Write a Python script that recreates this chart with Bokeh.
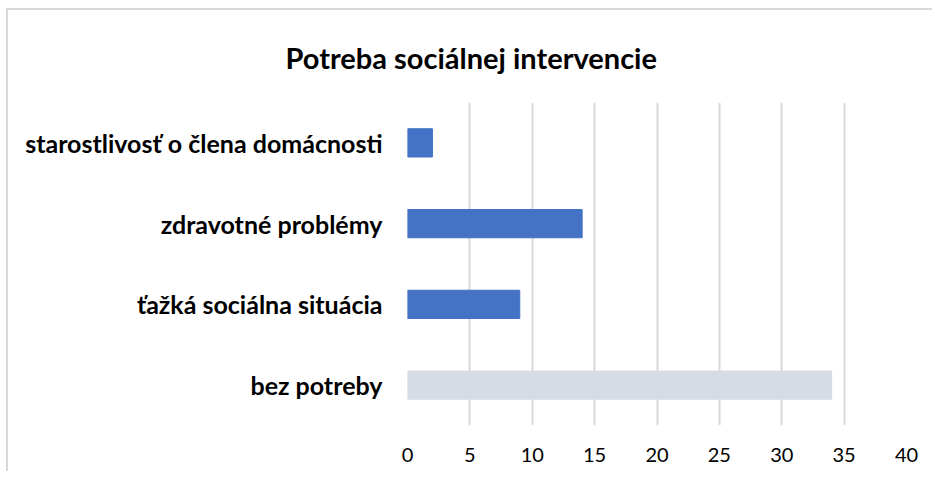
from bokeh.plotting import figure
from bokeh.models import FactorRange, Range1d, SingleIntervalTicker, Title, ColumnDataSource
from bokeh.embed import file_html
from bokeh.resources import INLINE

title_text = "Potreba sociálnej intervencie"
categories = ["starostlivosť o člena domácnosti", "zdravotné problémy", "ťažká sociálna situácia", "bez potreby"]
values = [2, 14, 9, 34]
colors = ["#4472C4", "#4472C4", "#4472C4", "#D6DCE5"]

source = ColumnDataSource(dict(cat=categories, val=values, color=colors))

FONT = "Lato"

p = figure(
    width=926, height=463,
    y_range=FactorRange(*reversed(categories)),
    x_range=Range1d(0, 40),
    output_backend="svg", toolbar_location=None,
    min_border_left=399, min_border_right=28, min_border_top=91, min_border_bottom=48,
)
p.styles = {"border-left": "2px solid #D9D9D9", "border-top": "2px solid #D9D9D9",
            "margin-left": "6px", "margin-top": "8px"}

p.hbar(y="cat", right="val", left=0, height=0.35, color="color", source=source)

p.add_layout(Title(text=title_text, align="left", offset=-122, standoff=55,
                   text_font=FONT, text_font_size="29px", text_font_style="bold",
                   text_color="#000000"), "above")

p.outline_line_color = None
p.background_fill_color = "white"
p.border_fill_color = "white"

p.xaxis.ticker = SingleIntervalTicker(interval=5)
p.xaxis.axis_line_color = None
p.xaxis.major_tick_line_color = None
p.xaxis.minor_tick_line_color = None
p.xaxis.major_label_text_font = FONT
p.xaxis.major_label_text_font_size = "20px"
p.xaxis.major_label_text_color = "#000000"
p.xaxis.major_label_standoff = 16

p.yaxis.axis_line_color = None
p.yaxis.major_tick_line_color = None
p.yaxis.minor_tick_line_color = None
p.yaxis.major_label_text_font = FONT
p.yaxis.major_label_text_font_size = "25px"
p.yaxis.major_label_text_font_style = "bold"
p.yaxis.major_label_text_color = "#000000"
p.yaxis.major_label_standoff = 19

p.xgrid.grid_line_color = "#D9D9D9"
p.xgrid.grid_line_width = 2
p.ygrid.grid_line_color = None

open("out.html", "w").write(file_html(p, INLINE))
